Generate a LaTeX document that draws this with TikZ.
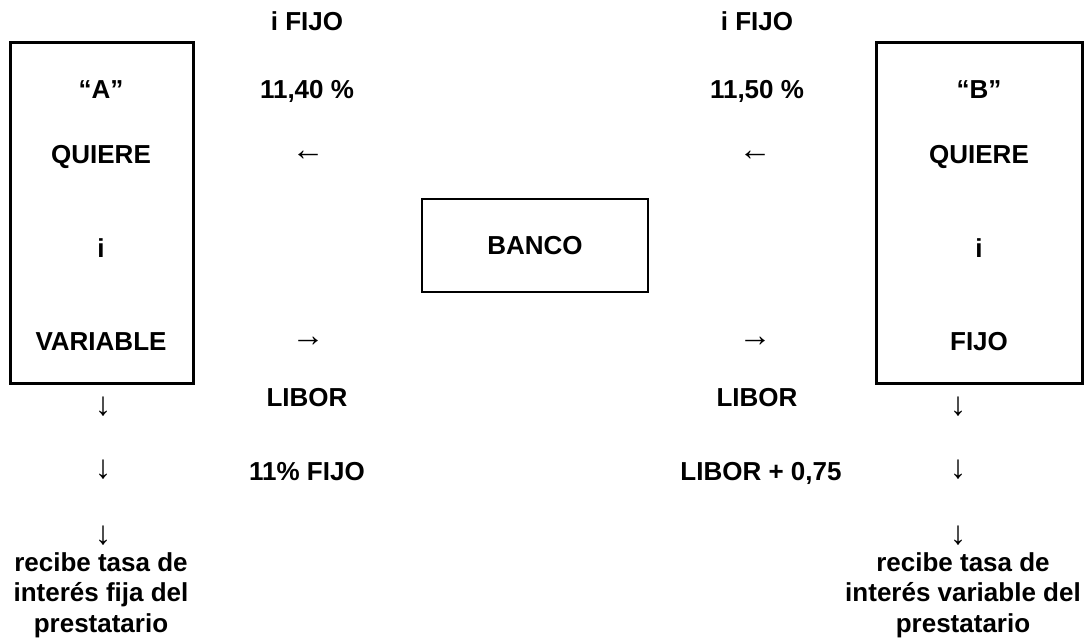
\documentclass[tikz,border=0pt]{standalone}
\usepackage{fontspec}
\setmainfont{Liberation Sans}
\newfontfamily\arrowfont{Liberation Serif}
\begin{document}
\begin{tikzpicture}[x=1pt,y=-1pt,
  lbl/.style={font=\fontsize{26}{31}\selectfont\bfseries, anchor=base, inner sep=0pt},
  arr/.style={font=\arrowfont\fontsize{33}{36}\selectfont, inner sep=0pt},
  para/.style={font=\fontsize{26}{30.5}\selectfont\bfseries, anchor=north, inner sep=0pt, align=center},
  party/.style={draw, line width=3pt, inner sep=0pt, minimum height=340pt},
  bank/.style={draw, line width=1.2pt, inner sep=0pt, minimum width=226pt, minimum height=93pt, font=\fontsize{26}{31}\selectfont\bfseries}]
\useasboundingbox (0,0) rectangle (1084,639);
% boxes
\node[party, minimum width=183pt] (boxA) at (101.5,213) {};
\node[party, minimum width=206pt] (boxB) at (979,213) {};
\node[bank] (banco) at (535,245.5) {BANCO};
% box A text
\node[lbl] (tA) at (101,99) {“A”};
\node[lbl] (qA) at (101,164) {QUIERE};
\node[lbl] (iA) at (101,258) {i};
\node[lbl] (vA) at (101,350) {VARIABLE};
% box B text
\node[lbl] (tB) at (979,99) {“B”};
\node[lbl] (qB) at (979,164) {QUIERE};
\node[lbl] (iB) at (979,258) {i};
\node[lbl] (vB) at (979,350) {FIJO};
% left middle column
\node[lbl] (l1) at (307,31) {i FIJO};
\node[lbl] (l2) at (307,99) {11,40 \%};
\node[lbl] (l3) at (307,406) {LIBOR};
\node[lbl] (l4) at (307,480) {11\% FIJO};
\node[arr] (la1) at (308,156) {←};
\node[arr] (la2) at (308,342) {→};
% right middle column
\node[lbl] (r1) at (757,31) {i FIJO};
\node[lbl] (r2) at (757,99) {11,50 \%};
\node[lbl] (r3) at (757,406) {LIBOR};
\node[lbl] (r4) at (761,480) {LIBOR + 0,75};
\node[arr] (ra1) at (755,156) {←};
\node[arr] (ra2) at (755,342) {→};
% down arrows
\node[arr] (da1) at (103,407) {↓};
\node[arr] (da2) at (103,470) {↓};
\node[arr] (da3) at (103,536) {↓};
\node[arr] (db1) at (958,407) {↓};
\node[arr] (db2) at (958,470) {↓};
\node[arr] (db3) at (958,536) {↓};
% bottom texts
\node[para] (ta) at (101,552) {recibe tasa de\\interés fija del\\prestatario};
\node[para] (tb) at (963,552) {recibe tasa de\\interés variable del\\prestatario};
\end{tikzpicture}
\end{document}
